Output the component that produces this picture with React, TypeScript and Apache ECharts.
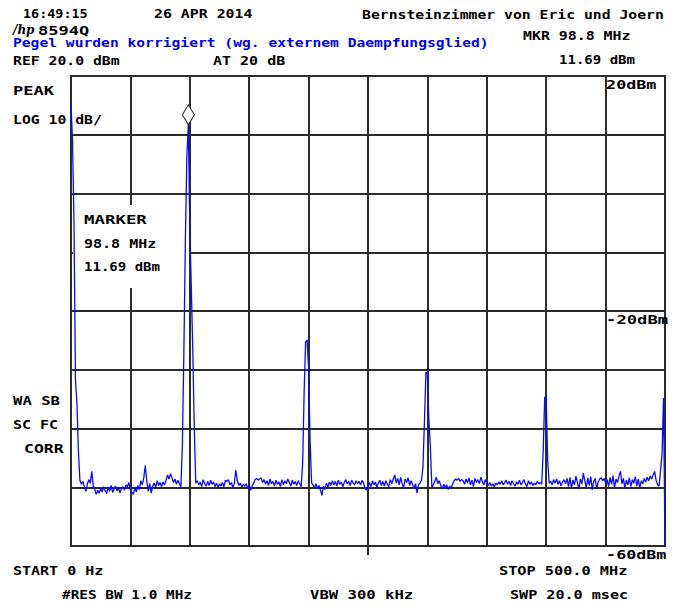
import React, { useEffect, useRef } from 'react';
import * as echarts from 'echarts';

// Sweep settings of the analyzer display
const START_MHZ = 0;
const STOP_MHZ = 500;
const SWEEP_POINTS = 401;
const REF_LEVEL_DBM = 20;
const BOTTOM_LEVEL_DBM = -60;
const DB_PER_DIV = 10;
const MHZ_PER_DIV = 50;

// Marker readout
const MARKER_FREQ_MHZ = 98.8;
const MARKER_LEVEL_DBM = 11.69;

// Graticule level annotations (dBm) and their glyph stretch
const LEVEL_LABELS = [20, -20, -60];
const LEVEL_LABEL_STRETCH = [1.39, 1.43, 1.39];

// Trace, in dBm, split into consecutive runs of sweep points
const loFeedthrough = [15.1, 9.1, -4.5, -31.7, -35.7, -44.0, -48.8];
const floorBand1 = [
  -49.5, -49.0, -49.9, -50.7, -49.5, -48.7, -49.3, -47.3, -49.8, -50.4,
  -51.2, -50.5, -51.0, -50.2, -50.8, -49.9, -50.6, -51.1, -50.0, -50.7,
  -49.7, -50.9, -50.3, -49.8, -50.6, -50.1, -51.0, -50.2, -49.9, -50.5,
  -49.6, -49.9, -49.2, -50.4, -50.9, -51.2, -50.1, -50.8, -49.7, -50.4,
  -48.9, -49.6, -48.4, -46.3, -48.9, -50.7, -49.4, -51.0, -49.8, -49.3,
  -50.0, -48.9, -49.7, -49.2, -49.9, -49.1, -49.6, -48.8, -47.9, -48.6,
  -47.7, -48.4, -49.2, -48.6, -49.5, -48.8, -49.4, -50.0,
];
const carrierPeak = [-42.8, -27.1, -8.4, 6.2, MARKER_LEVEL_DBM, -5.4, -15.9, -26.6, -39.7, -49.3];
const floorBand2 = [
  -48.9, -49.6, -49.1, -49.9, -48.7, -49.4, -49.8, -49.0, -49.7, -48.8,
  -49.5, -49.1, -49.9, -49.3, -50.0, -49.4, -49.8, -49.2, -49.9, -48.8,
  -49.0, -48.7, -49.6, -49.2, -50.1, -49.3, -47.1, -48.9, -49.7, -49.3,
  -50.0, -49.5, -49.8, -49.4, -50.2, -49.6, -50.5, -49.8, -49.3, -48.7,
  -48.5, -48.8, -48.6, -48.4, -49.2, -48.7, -49.5, -48.9, -49.7, -48.6,
  -49.4, -49.0, -49.8, -48.8, -49.5, -49.1, -49.9, -48.7, -49.6, -48.9,
  -49.4, -48.6, -49.2, -49.8, -48.8, -49.5, -49.0, -49.7, -48.9, -49.4, -49.9,
];
const secondPeak = [-45.9, -33.8, -25.3, -24.9, -29.7, -42.0, -49.3];
const floorBand3 = [
  -49.6, -50.1, -49.4, -50.3, -49.7, -50.5, -51.4, -49.8, -50.4, -49.3,
  -50.0, -49.1, -49.7, -48.9, -49.6, -49.0, -49.8, -48.8, -49.5, -49.1,
  -49.9, -49.2, -48.7, -49.4, -49.0, -49.7, -48.8, -49.3, -49.6, -48.9,
  -49.4, -49.0, -49.6, -48.8, -49.3, -50.2, -50.5, -49.8, -49.2, -49.9,
  -48.9, -49.6, -49.1, -50.0, -49.3, -48.8, -49.7, -49.0, -49.8, -48.9,
  -49.5, -49.9, -48.7, -49.4, -48.6, -47.9, -49.3, -48.5, -49.6, -48.3,
  -49.4, -50.1, -48.6, -49.2, -48.4, -49.7, -48.9, -49.5, -50.2, -49.4,
  -51.0, -49.6, -49.3, -48.8,
];
const thirdPeak = [-46.6, -38.9, -30.4, -30.7, -38.6, -43.1, -50.0];
const floorBand4 = [
  -49.6, -49.0, -48.3, -49.4, -48.9, -49.7, -50.3, -49.5, -50.1, -49.6,
  -50.4, -49.8, -50.2, -49.4, -48.9, -48.6, -48.8, -48.5, -49.0, -48.7,
  -48.9, -49.5, -48.6, -49.3, -48.4, -49.6, -48.8, -49.9, -48.5, -49.2,
  -48.7, -49.4, -48.3, -49.0, -49.6, -48.7, -49.3, -49.7, -49.2, -49.8,
  -49.4, -49.9, -49.3, -49.6, -49.1, -49.5, -48.9, -49.6, -49.2, -48.8,
  -49.5, -49.0, -49.7, -48.9, -49.4, -49.8, -49.1, -49.5, -48.8, -49.6,
  -49.2, -48.7, -49.4, -49.9, -48.9, -49.5, -49.1, -49.7, -49.3, -49.6,
  -49.0, -49.4, -49.2, -49.5,
];
const fourthPeak = [-43.7, -34.6, -35.1, -45.4, -49.3];
const floorBand5 = [
  -49.0, -49.6, -48.7, -49.3, -48.6, -49.5, -48.9, -49.8, -49.1, -48.7,
  -49.4, -48.5, -49.9, -48.3, -50.2, -48.8, -49.6, -48.1, -49.2, -50.3,
  -48.6, -49.4, -47.6, -48.9, -50.1, -48.4, -49.7, -48.2, -50.4, -49.0,
  -48.5, -50.3, -49.1, -48.6, -48.4, -48.9, -48.5, -49.3, -48.7, -49.9,
  -48.3, -49.5, -48.0, -50.1, -48.6, -49.2, -48.1, -47.3, -49.4, -48.5,
  -50.2, -48.8, -49.6, -48.4, -49.9, -48.7, -49.3, -48.2, -49.8, -48.6,
  -50.1, -48.9, -49.4, -48.5, -49.1, -48.3, -48.9, -48.1, -48.6, -47.9,
  -47.3, -48.8, -49.6, -49.8,
];
const fifthPeak = [-47.1, -44.5, -34.8, -60.0];

const traceLevels = [
  ...loFeedthrough, ...floorBand1, ...carrierPeak, ...floorBand2, ...secondPeak,
  ...floorBand3, ...thirdPeak, ...floorBand4, ...fourthPeak, ...floorBand5, ...fifthPeak,
];
const stepMhz = (STOP_MHZ - START_MHZ) / (SWEEP_POINTS - 1);
const traceData = traceLevels.map((lvl, i) => [START_MHZ + i * stepMhz, lvl]);

const FONT = '"DejaVu Sans Mono", "Liberation Mono", monospace';
const INK = '#000';
const GRID_INK = '#2b2b2b';
const TRACE_BLUE = '#0a0aff';

type TextOpts = { color?: string; align?: string; scaleX?: number; size?: number; vAlign?: string };

// Bold monospace text, stretched horizontally like the instrument's screen font
function screenText(text: string, x: number, y: number, o: TextOpts = {}) {
  const align = o.align ?? 'left';
  const vAlign = o.vAlign ?? 'middle';
  return {
    type: 'text',
    x,
    y,
    scaleX: o.scaleX ?? 1.22,
    z: 20,
    silent: true,
    style: {
      text,
      fill: o.color ?? INK,
      fontFamily: FONT,
      fontWeight: 'bold',
      fontSize: o.size ?? 12,
      align,
      textAlign: align,
      verticalAlign: vAlign,
      textVerticalAlign: vAlign,
    },
  };
}

export default function App() {
  const ref = useRef<HTMLDivElement>(null);

  useEffect(() => {
    const el = ref.current;
    if (!el) return;
    const chart = echarts.init(el, undefined, { renderer: 'svg' });

    chart.setOption({
      animation: false,
      backgroundColor: '#ffffff',
      grid: {
        left: 71,
        top: 76,
        width: 594,
        height: 470,
        show: true,
        borderColor: GRID_INK,
        borderWidth: 2,
        backgroundColor: 'transparent',
      },
      xAxis: {
        type: 'value',
        min: START_MHZ,
        max: STOP_MHZ,
        interval: MHZ_PER_DIV,
        axisLine: { show: false },
        axisTick: { show: false },
        axisLabel: { show: false },
        splitLine: { show: true, lineStyle: { color: GRID_INK, width: 2 } },
      },
      yAxis: {
        type: 'value',
        min: BOTTOM_LEVEL_DBM,
        max: REF_LEVEL_DBM,
        interval: DB_PER_DIV,
        axisLine: { show: false },
        axisTick: { show: false },
        axisLabel: { show: false },
        splitLine: { show: true, lineStyle: { color: GRID_INK, width: 2 } },
      },
      series: [
        {
          type: 'line',
          data: traceData,
          showSymbol: false,
          symbol: 'none',
          z: 3,
          lineStyle: { color: TRACE_BLUE, width: 1.3 },
          markPoint: {
            symbol: 'diamond',
            symbolSize: [12, 20],
            symbolOffset: [0, -10],
            silent: true,
            label: { show: false },
            itemStyle: { color: '#ffffff', borderColor: '#333333', borderWidth: 1.2 },
            data: [{ coord: [MARKER_FREQ_MHZ, MARKER_LEVEL_DBM] }],
          },
        },
      ],
    });

    const toPx = (f: number, lvl: number) =>
      chart.convertToPixel({ gridIndex: 0 }, [f, lvl]) as number[];

    // Level annotations sit just below their graticule lines in the last column
    const lastColumnX = toPx(STOP_MHZ - MHZ_PER_DIV, 0)[0];
    const levelTexts = LEVEL_LABELS.map((lvl, k) => {
      const y = toPx(START_MHZ, lvl)[1];
      return screenText(`${lvl}dBm`, lastColumnX + 0.5, y + 9, { scaleX: LEVEL_LABEL_STRETCH[k] });
    });

    // Centre-frequency tick below the graticule
    const [cx, cy] = toPx((START_MHZ + STOP_MHZ) / 2, BOTTOM_LEVEL_DBM);

    chart.setOption({
      graphic: {
        elements: [
          // blank panel behind the marker readout
          {
            type: 'rect',
            z: 1,
            silent: true,
            shape: { x: 73, y: 205, width: 116, height: 83 },
            style: { fill: '#ffffff' },
          },
          {
            type: 'line',
            z: 1,
            silent: true,
            shape: { x1: cx, y1: cy, x2: cx, y2: cy + 9 },
            style: { stroke: GRID_INK, lineWidth: 2 },
          },
          // instrument logo
          {
            type: 'text',
            x: 13,
            y: 30,
            z: 20,
            silent: true,
            style: {
              text: '/hp',
              fill: INK,
              fontFamily: '"DejaVu Serif", serif',
              fontStyle: 'italic',
              fontWeight: 'bold',
              fontSize: 12,
              verticalAlign: 'middle',
              textVerticalAlign: 'middle',
            },
          },
          screenText('16:49:15', 23, 14, { scaleX: 1.12 }),
          screenText('26 APR 2014', 154, 14, { scaleX: 1.24 }),
          screenText('Bernsteinzimmer von Eric und Joern', 362, 14.5, { scaleX: 1.23 }),
          screenText('8594Q', 38, 31, { scaleX: 1.42 }),
          screenText('Pegel wurden korrigiert (wg. externem Daempfungsglied)', 13, 43, {
            color: '#0000f0',
            scaleX: 1.22,
          }),
          screenText(`MKR ${MARKER_FREQ_MHZ} MHz`, 523, 36, { scaleX: 1.24 }),
          screenText(`REF ${REF_LEVEL_DBM.toFixed(1)} dBm`, 13, 61, { scaleX: 1.23 }),
          screenText('AT 20 dB', 213, 61, { scaleX: 1.25 }),
          screenText(`${MARKER_LEVEL_DBM} dBm`, 559, 59.5, { scaleX: 1.17 }),
          screenText('PEAK', 13, 91, { scaleX: 1.42 }),
          screenText(`LOG ${DB_PER_DIV} dB/`, 13, 119.5, { scaleX: 1.23 }),
          screenText('MARKER', 84, 220, { scaleX: 1.45 }),
          screenText(`${MARKER_FREQ_MHZ} MHz`, 84, 244, { scaleX: 1.25 }),
          screenText(`${MARKER_LEVEL_DBM} dBm`, 84, 267, { scaleX: 1.17 }),
          screenText('WA SB', 13, 401, { scaleX: 1.3 }),
          screenText('SC FC', 13, 425, { scaleX: 1.25 }),
          screenText('CORR', 24, 448.5, { scaleX: 1.37 }),
          screenText(`START ${START_MHZ} Hz`, 13, 571, { scaleX: 1.25 }),
          screenText('#RES BW 1.0 MHz', 62, 595, { scaleX: 1.2 }),
          screenText('VBW 300 kHz', 310, 595, { scaleX: 1.3 }),
          screenText(`STOP ${STOP_MHZ.toFixed(1)} MHz`, 499, 571, { scaleX: 1.27 }),
          screenText('SWP 20.0 msec', 510, 595, { scaleX: 1.26 }),
          ...levelTexts,
        ],
      },
    });

    return () => chart.dispose();
  }, []);

  return (
    <div
      ref={ref}
      style={{ position: 'fixed', left: 0, top: 0, width: 679, height: 606, background: '#ffffff' }}
    />
  );
}
